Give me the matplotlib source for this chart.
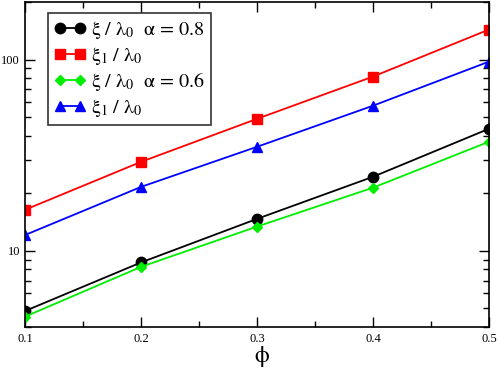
import numpy as np
import matplotlib
matplotlib.use('Agg')
import matplotlib.pyplot as plt

plt.rcParams['font.family'] = ['Liberation Serif', 'DejaVu Serif']
plt.rcParams['mathtext.fontset'] = 'stix'

# データ
phi = [0.1, 0.2, 0.3, 0.4, 0.5]
xi_08 = [4.85, 8.7, 14.7, 24.4, 43.5]
xi1_08 = [16.4, 29.2, 49.0, 81.5, 143.6]
xi_06 = [4.53, 8.25, 13.4, 21.4, 37.2]
xi1_06 = [12.1, 21.6, 35.0, 57.4, 97.6]

labels = [r'$\mathrm{\xi\ /\ \lambda_0\ \ \alpha\,=\,0.8}$',
          r'$\mathrm{\xi_1\ /\ \lambda_0}$',
          r'$\mathrm{\xi\ /\ \lambda_0\ \ \alpha\,=\,0.6}$',
          r'$\mathrm{\xi_1\ /\ \lambda_0}$']

fig = plt.figure(figsize=(4.98, 3.70), dpi=100)
ax = fig.add_axes([0.0502, 0.1162, 0.9318, 0.8784])

ax.plot(phi, xi_08, '-o', color='black', lw=1.3, ms=7.5, label=labels[0])
ax.plot(phi, xi1_08, '-s', color='red', lw=1.3, ms=6.5, label=labels[1])
ax.plot(phi, xi_06, '-D', color='#00ee00', lw=1.3, ms=5.5, label=labels[2])
ax.plot(phi, xi1_06, '-^', color='blue', lw=1.3, ms=7.5, label=labels[3])

ax.set_yscale('log')
ax.set_xlim(0.1, 0.5)
ax.set_ylim(4, 200)
ax.set_xticks([0.1, 0.2, 0.3, 0.4, 0.5])
ax.set_xticklabels(['0.1', '0.2', '0.3', '0.4', '0.5'])
ax.set_xticks([0.15, 0.25, 0.35, 0.45], minor=True)
ax.set_yticks([10, 100])
ax.set_yticklabels(['10', '100'])
ax.yaxis.set_minor_formatter(matplotlib.ticker.NullFormatter())

ax.tick_params(which='both', direction='in', top=True, right=True, labelsize=9, width=1)
ax.tick_params(which='major', length=7)
ax.tick_params(which='minor', length=4)
ax.tick_params(axis='x', pad=4)
for s in ax.spines.values():
    s.set_linewidth(1.2)

fig.text(0.527, 0.004, r'$\mathrm{\phi}$', fontsize=17, ha='center', va='bottom')

leg = ax.legend(loc='upper left', bbox_to_anchor=(0.049, 0.967), fontsize=14.5,
                frameon=True, fancybox=False, edgecolor='black', handlelength=1.6,
                handletextpad=0.25, borderpad=0.3, labelspacing=0.2, borderaxespad=0,
                numpoints=2)
leg.get_frame().set_linewidth(1.2)

fig.savefig('out.png', dpi=100)
